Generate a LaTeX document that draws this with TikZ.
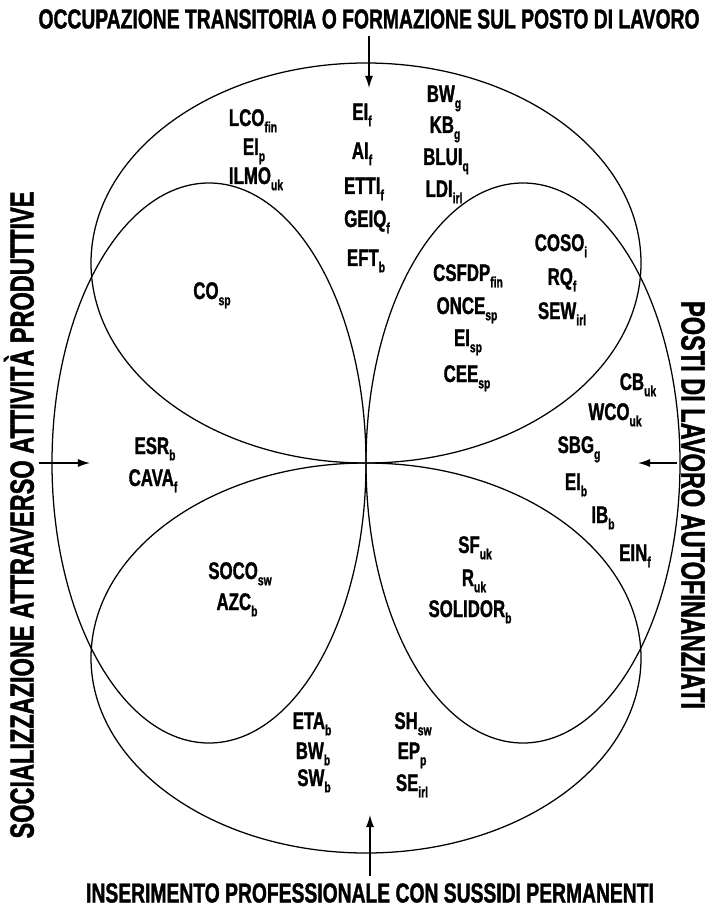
\documentclass[tikz,border=0pt]{standalone}
\usepackage{fontspec}
\newfontfamily\condbold{Liberation Sans}[FakeStretch=0.7,FakeBold=1.2]
\usetikzlibrary{arrows.meta}
\newcommand{\acr}[2]{#1\raisebox{-0.26em}{\fontsize{10.5}{10.5}\selectfont #2}}

\begin{document}
\begin{tikzpicture}[
	x=0.025cm, y=-0.025cm,
	>={Latex[length=3mm,width=2mm]},
	ring/.style={line width=0.9pt},
	prog/.style={font=\condbold\bfseries\fontsize{17.1}{18}\selectfont,anchor=base,inner sep=0pt},
	heading/.style={font=\condbold\bfseries\fontsize{19.6}{20}\selectfont,inner sep=5pt},
	sideheading/.style={font=\condbold\bfseries\fontsize{23.9}{24}\selectfont,inner sep=3pt}
	]
	\useasboundingbox (0,0) rectangle (709,911);
	% the four ellipses meeting in the middle
	\draw[ring] (366,263) ellipse [x radius=275, y radius=200];
	\draw[ring] (366,658) ellipse [x radius=275, y radius=195];
	\draw[ring] (209,463) ellipse [x radius=157, y radius=280];
	\draw[ring] (523,463) ellipse [x radius=157, y radius=280];

	\node[heading] (occupazione) at (369,19) {OCCUPAZIONE TRANSITORIA O FORMAZIONE SUL POSTO DI LAVORO};
	\node[heading] (inserimento) at (370,893) {INSERIMENTO PROFESSIONALE CON SUSSIDI PERMANENTI};
	\node[sideheading,rotate=90] (socializzazione) at (19,515) {SOCIALIZZAZIONE ATTRAVERSO ATTIVITÀ PRODUTTIVE};
	\node[sideheading,rotate=-90] (posti) at (693,505) {POSTI DI LAVORO AUTOFINANZIATI};
	\coordinate (occtip) at (369,88);
	\coordinate (instip) at (370,815);
	\coordinate (soctip) at (90,463);
	\coordinate (postitip) at (638,463);
	\draw[ring,->] (occupazione) -- (occtip);
	\draw[ring,->] (inserimento) -- (instip);
	\draw[ring,->] (socializzazione.south |- soctip) -- (soctip);
	\draw[ring,->] (posti.south |- postitip) -- (postitip);

	% top
	\node[prog] (lcofin) at (253,126) {\acr{LCO}{fin}};
	\node[prog] (eip) at (254,155) {\acr{EI}{p}};
	\node[prog] (ilmouk) at (256,184) {\acr{ILMO}{uk}};
	\node[prog] (eif) at (362,120) {\acr{EI}{f}};
	\node[prog] (aif) at (362,159) {\acr{AI}{f}};
	\node[prog] (ettif) at (364,194) {\acr{ETTI}{f}};
	\node[prog] (geiqf) at (367,227) {\acr{GEIQ}{f}};
	\node[prog] (eftb) at (366,266) {\acr{EFT}{b}};
	\node[prog] (bwg) at (444,102) {\acr{BW}{g}};
	\node[prog] (kbg) at (445,133) {\acr{KB}{g}};
	\node[prog] (bluiq) at (446,165) {\acr{BLUI}{q}};
	\node[prog] (ldiirl) at (444,197) {\acr{LDI}{irl}};
	% upper lobes
	\node[prog] (cosp) at (212,299) {\acr{CO}{sp}};
	\node[prog] (csfdpfin) at (468,281) {\acr{CSFDP}{fin}};
	\node[prog] (oncesp) at (467,314) {\acr{ONCE}{sp}};
	\node[prog] (eisp) at (468,346) {\acr{EI}{sp}};
	\node[prog] (ceesp) at (467,382) {\acr{CEE}{sp}};
	\node[prog] (cosoi) at (561,251) {\acr{COSO}{i}};
	\node[prog] (rqf) at (562,285) {\acr{RQ}{f}};
	\node[prog] (sewirl) at (562,319) {\acr{SEW}{irl}};
	% right
	\node[prog] (cbuk) at (638,390) {\acr{CB}{uk}};
	\node[prog] (wcouk) at (615,420) {\acr{WCO}{uk}};
	\node[prog] (sbgg) at (579,453) {\acr{SBG}{g}};
	\node[prog] (eib) at (576,490) {\acr{EI}{b}};
	\node[prog] (ibb) at (603,523) {\acr{IB}{b}};
	\node[prog] (einf) at (635,561) {\acr{EIN}{f}};
	% left
	\node[prog] (esrb) at (155,454) {\acr{ESR}{b}};
	\node[prog] (cavaf) at (153,486) {\acr{CAVA}{f}};
	% lower lobes
	\node[prog] (sococsw) at (240,579) {\acr{SOCO}{sw}};
	\node[prog] (azcb) at (237,610) {\acr{AZC}{b}};
	\node[prog] (sfuk) at (475,553) {\acr{SF}{uk}};
	\node[prog] (ruk) at (474,586) {\acr{R}{uk}};
	\node[prog] (solidorb) at (470,617) {\acr{SOLIDOR}{b}};
	% bottom
	\node[prog] (etab) at (312,729) {\acr{ETA}{b}};
	\node[prog] (bwb) at (313,759) {\acr{BW}{b}};
	\node[prog] (swb) at (314,786) {\acr{SW}{b}};
	\node[prog] (shsw) at (413,729) {\acr{SH}{sw}};
	\node[prog] (epp) at (412,759) {\acr{EP}{p}};
	\node[prog] (seirl) at (412,791) {\acr{SE}{irl}};
\end{tikzpicture}
\end{document}
